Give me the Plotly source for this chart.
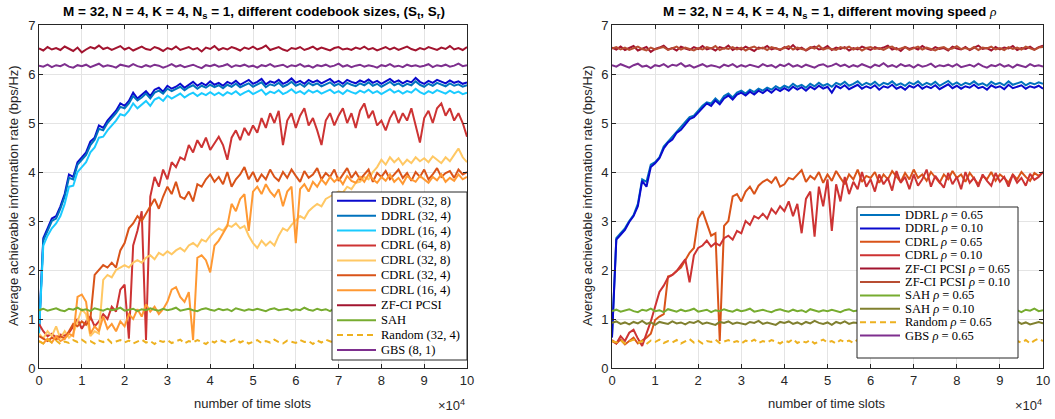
import plotly.graph_objects as go

# ---------------- data (x in units of 10^4 time slots) ----------------
slots = [round(i * 0.1, 1) for i in range(101)]
xtick_vals = [0, 1, 2, 3, 4, 5, 6, 7, 8, 9, 10]
ytick_vals = [0, 1, 2, 3, 4, 5, 6, 7]

# ----- left panel: different codebook sizes -----
ddrl_32_8 = [0.75,2.65,2.85,3.05,3.10,3.30,3.55,3.95,3.90,4.20,
             4.30,4.40,4.62,4.70,4.95,4.90,5.05,5.15,5.25,5.40,
             5.35,5.45,5.62,5.50,5.58,5.65,5.55,5.68,5.72,5.64,
             5.76,5.70,5.74,5.80,5.72,5.78,5.84,5.76,5.82,5.77,
             5.85,5.78,5.82,5.76,5.84,5.80,5.86,5.78,5.83,5.88,
             5.80,5.84,5.90,5.79,5.85,5.82,5.88,5.80,5.84,5.91,
             5.82,5.86,5.80,5.88,5.83,5.87,5.81,5.85,5.90,5.82,
             5.86,5.80,5.88,5.84,5.81,5.87,5.83,5.89,5.82,5.86,
             5.80,5.85,5.90,5.83,5.87,5.81,5.86,5.83,5.92,5.84,
             5.80,5.86,5.82,5.88,5.84,5.81,5.87,5.82,5.85,5.80,
             5.83]
ddrl_32_4 = [0.72,2.60,2.80,3.00,3.05,3.25,3.50,3.88,3.85,4.15,
             4.25,4.35,4.55,4.66,4.88,4.85,5.00,5.10,5.20,5.33,
             5.30,5.40,5.55,5.46,5.52,5.60,5.50,5.62,5.66,5.60,
             5.70,5.65,5.69,5.74,5.67,5.73,5.77,5.70,5.76,5.72,
             5.78,5.73,5.77,5.71,5.78,5.74,5.80,5.73,5.77,5.81,
             5.74,5.78,5.83,5.73,5.79,5.76,5.82,5.74,5.78,5.84,
             5.76,5.80,5.74,5.82,5.77,5.81,5.75,5.79,5.83,5.76,
             5.80,5.74,5.82,5.78,5.75,5.81,5.77,5.83,5.76,5.80,
             5.74,5.79,5.84,5.77,5.81,5.75,5.80,5.77,5.85,5.78,
             5.74,5.80,5.76,5.82,5.78,5.75,5.81,5.76,5.79,5.74,
             5.77]
ddrl_16_4 = [0.70,2.50,2.70,2.85,2.95,3.10,3.35,3.70,3.72,4.00,
             4.10,4.20,4.40,4.50,4.70,4.72,4.85,4.95,5.05,5.18,
             5.15,5.25,5.40,5.30,5.38,5.45,5.35,5.48,5.52,5.45,
             5.56,5.50,5.55,5.60,5.52,5.58,5.62,5.55,5.61,5.57,
             5.63,5.57,5.62,5.56,5.63,5.59,5.65,5.57,5.62,5.66,
             5.59,5.63,5.68,5.58,5.64,5.61,5.67,5.59,5.63,5.69,
             5.61,5.65,5.59,5.67,5.62,5.66,5.60,5.64,5.68,5.61,
             5.65,5.59,5.67,5.63,5.60,5.66,5.62,5.68,5.61,5.65,
             5.59,5.64,5.69,5.62,5.66,5.60,5.65,5.62,5.70,5.63,
             5.59,5.65,5.61,5.67,5.63,5.60,5.66,5.61,5.64,5.59,
             5.62]
cdrl_64_8 = [0.90,0.75,0.65,0.70,0.62,0.68,0.66,0.72,0.85,1.00,
             0.80,0.95,1.05,0.85,0.95,1.10,1.00,1.25,1.15,1.60,
             1.70,0.60,2.50,2.80,3.20,0.57,3.50,3.90,3.70,4.05,
             3.85,4.20,4.10,4.30,4.25,4.55,4.40,4.65,4.50,4.70,
             4.45,4.60,4.72,4.55,4.25,4.70,4.85,4.65,4.90,4.75,
             4.95,4.80,5.10,4.90,5.20,5.00,5.25,4.55,5.05,5.20,
             4.90,5.15,5.30,4.95,5.10,4.85,4.55,5.05,5.20,4.95,
             5.15,5.30,5.00,5.20,4.90,5.25,5.40,5.10,5.25,4.95,
             5.05,4.85,5.10,5.25,5.00,5.20,5.05,5.30,4.95,4.60,
             5.10,5.25,5.00,5.30,5.40,5.15,5.30,5.05,5.20,5.00,
             4.72]
cdrl_32_8 = [0.70,0.60,0.75,0.65,0.85,0.60,0.75,0.62,0.70,0.95,
             1.20,1.10,0.65,0.75,0.70,1.80,1.90,1.85,2.00,2.05,
             2.10,2.05,2.15,2.20,2.15,2.25,2.30,2.22,2.35,2.30,
             2.38,2.32,2.40,2.45,2.38,2.50,2.55,2.48,2.62,2.58,
             2.70,2.78,2.85,2.80,2.92,2.88,2.95,2.85,2.90,2.70,
             2.55,2.45,2.60,2.50,2.58,2.50,2.70,2.85,2.80,2.92,
             3.00,3.10,3.05,3.20,3.28,3.35,3.30,3.45,3.50,3.55,
             3.60,3.58,3.70,3.65,3.78,3.80,3.90,3.85,4.00,4.10,
             4.25,4.15,4.30,4.20,4.28,4.15,4.25,4.18,4.30,4.22,
             4.28,4.20,4.32,4.25,4.18,4.30,4.22,4.35,4.48,4.30,
             4.20]
cdrl_32_4 = [0.65,0.60,0.55,0.62,0.58,0.65,0.60,0.75,0.90,0.85,
             0.95,0.88,1.00,1.90,2.00,2.10,2.05,2.15,2.05,2.40,
             2.55,2.85,2.95,3.10,3.00,3.15,3.30,3.45,3.25,3.50,
             3.70,3.55,3.80,3.50,3.45,3.60,3.40,3.75,3.70,3.85,
             3.95,3.80,3.90,3.75,4.00,3.70,3.85,3.95,4.10,3.85,
             4.00,3.80,3.95,3.85,4.05,3.90,3.82,4.00,3.88,4.05,
             3.92,3.80,4.02,3.88,3.95,4.08,3.85,3.98,3.90,4.05,
             3.82,3.95,4.08,3.88,4.00,3.85,3.95,4.05,3.80,3.98,
             3.90,4.02,3.85,3.95,4.05,3.88,3.98,3.82,4.00,3.90,
             4.05,3.85,3.95,4.08,3.90,3.98,4.02,3.88,4.05,3.95,
             4.00]
cdrl_16_4 = [0.55,0.50,0.60,0.52,0.65,0.55,0.60,0.70,0.65,1.45,
             1.50,1.35,0.70,0.85,0.75,1.05,0.80,0.90,0.75,0.95,
             0.85,1.10,1.00,1.20,1.05,1.30,1.15,1.25,1.10,1.20,
             1.35,1.60,1.65,1.45,1.35,1.55,0.57,2.25,2.30,2.20,
             1.95,2.50,2.60,2.75,2.90,3.35,3.20,3.45,3.55,2.80,
             3.60,3.70,3.55,3.75,3.60,3.50,3.65,3.30,3.60,3.70,
             2.55,3.65,3.75,3.60,3.80,3.70,3.85,3.75,3.90,3.80,
             3.88,3.75,3.92,3.82,3.78,3.90,3.80,3.95,3.85,3.78,
             3.90,3.82,3.95,3.80,3.88,3.76,3.92,3.85,3.80,3.92,
             3.85,3.78,3.90,3.83,3.95,3.80,3.88,3.82,3.95,3.85,
             3.90]
zfci_L = [6.52,6.48,6.55,6.50,6.53,6.49,6.56,6.51,6.47,6.54,
          6.44,6.50,6.55,6.52,6.58,6.51,6.54,6.49,6.53,6.57,
          6.50,6.54,6.48,6.52,6.56,6.51,6.49,6.55,6.52,6.47,
          6.53,6.50,6.56,6.49,6.52,6.55,6.50,6.53,6.46,6.54,
          6.51,6.57,6.49,6.53,6.50,6.55,6.52,6.48,6.54,6.51,
          6.56,6.50,6.53,6.58,6.49,6.52,6.55,6.50,6.47,6.53,
          6.51,6.55,6.49,6.52,6.56,6.50,6.54,6.51,6.48,6.53,
          6.55,6.50,6.52,6.49,6.54,6.51,6.56,6.50,6.53,6.48,
          6.52,6.55,6.50,6.54,6.49,6.52,6.56,6.51,6.48,6.53,
          6.50,6.55,6.52,6.49,6.54,6.51,6.57,6.50,6.53,6.49,
          6.55]
sah_L = [1.18,1.21,1.17,1.20,1.22,1.18,1.16,1.21,1.19,1.23,
         1.18,1.20,1.16,1.22,1.19,1.17,1.21,1.18,1.20,1.23,
         1.17,1.19,1.21,1.16,1.20,1.18,1.22,1.19,1.17,1.21,
         1.18,1.20,1.23,1.17,1.19,1.21,1.18,1.16,1.20,1.22,
         1.19,1.17,1.21,1.18,1.20,1.16,1.22,1.19,1.17,1.20,
         1.18,1.21,1.19,1.16,1.20,1.22,1.18,1.19,1.21,1.17,
         1.20,1.18,1.23,1.19,1.17,1.21,1.18,1.20,1.16,1.22,
         1.19,1.17,1.20,1.21,1.18,1.16,1.20,1.22,1.18,1.19,
         1.21,1.17,1.20,1.18,1.22,1.19,1.16,1.20,1.18,1.21,
         1.17,1.19,1.22,1.18,1.20,1.16,1.21,1.19,1.23,1.18,
         1.20]
random_L = [0.55,0.50,0.58,0.52,0.56,0.49,0.54,0.51,0.57,0.53,
            0.58,0.52,0.55,0.50,0.56,0.53,0.59,0.51,0.54,0.57,
            0.52,0.56,0.50,0.54,0.58,0.52,0.55,0.49,0.56,0.53,
            0.57,0.51,0.54,0.58,0.50,0.55,0.52,0.57,0.53,0.49,
            0.56,0.52,0.58,0.54,0.51,0.55,0.59,0.52,0.56,0.50,
            0.54,0.57,0.51,0.55,0.52,0.58,0.53,0.50,0.56,0.54,
            0.51,0.57,0.53,0.55,0.49,0.56,0.52,0.58,0.54,0.51,
            0.55,0.53,0.57,0.50,0.55,0.52,0.58,0.53,0.56,0.51,
            0.54,0.57,0.52,0.55,0.50,0.56,0.53,0.59,0.52,0.55,
            0.51,0.57,0.53,0.55,0.60,0.52,0.56,0.50,0.54,0.58,
            0.55]
gbs_L = [6.17,6.15,6.19,6.14,6.18,6.16,6.20,6.15,6.13,6.18,
         6.16,6.19,6.14,6.17,6.21,6.15,6.18,6.16,6.13,6.19,
         6.17,6.15,6.20,6.16,6.14,6.18,6.15,6.19,6.17,6.13,
         6.16,6.20,6.15,6.18,6.14,6.17,6.19,6.15,6.12,6.18,
         6.16,6.19,6.15,6.17,6.20,6.14,6.18,6.16,6.19,6.15,
         6.17,6.13,6.18,6.16,6.20,6.15,6.17,6.19,6.14,6.18,
         6.16,6.20,6.15,6.17,6.13,6.18,6.16,6.19,6.15,6.17,
         6.21,6.15,6.18,6.14,6.17,6.19,6.15,6.18,6.16,6.13,
         6.18,6.16,6.20,6.15,6.17,6.14,6.19,6.16,6.18,6.15,
         6.17,6.20,6.14,6.18,6.16,6.19,6.15,6.17,6.21,6.16,
         6.18]

# ----- right panel: different moving speed rho -----
ddrl_065 = [0.65,2.65,2.75,2.85,3.00,3.12,3.35,3.85,3.80,4.15,
            4.20,4.30,4.52,4.62,4.70,4.82,4.90,5.00,5.12,5.15,
            5.25,5.35,5.42,5.40,5.50,5.42,5.55,5.60,5.52,5.62,
            5.66,5.60,5.68,5.63,5.70,5.66,5.72,5.68,5.75,5.70,
            5.76,5.72,5.80,5.74,5.78,5.72,5.80,5.75,5.82,5.76,
            5.80,5.74,5.82,5.78,5.84,5.76,5.80,5.85,5.77,5.82,
            5.78,5.84,5.76,5.82,5.79,5.85,5.77,5.81,5.76,5.83,
            5.79,5.85,5.77,5.82,5.78,5.84,5.76,5.81,5.86,5.78,
            5.83,5.77,5.82,5.79,5.85,5.78,5.81,5.76,5.84,5.79,
            5.82,5.77,5.85,5.78,5.81,5.84,5.77,5.82,5.79,5.83,
            5.80]
ddrl_010 = [0.62,2.62,2.72,2.82,2.98,3.10,3.30,3.82,3.70,4.10,
            4.18,4.28,4.48,4.60,4.66,4.80,4.86,4.98,5.08,5.12,
            5.22,5.30,5.40,5.35,5.46,5.38,5.50,5.56,5.48,5.58,
            5.62,5.56,5.64,5.58,5.66,5.61,5.68,5.62,5.70,5.65,
            5.71,5.66,5.74,5.68,5.73,5.66,5.74,5.69,5.76,5.70,
            5.74,5.62,5.76,5.71,5.77,5.69,5.74,5.78,5.70,5.75,
            5.71,5.77,5.68,5.75,5.72,5.78,5.70,5.74,5.68,5.76,
            5.72,5.78,5.70,5.75,5.71,5.77,5.69,5.74,5.79,5.71,
            5.76,5.70,5.75,5.72,5.78,5.71,5.74,5.68,5.77,5.72,
            5.75,5.69,5.78,5.71,5.74,5.77,5.70,5.75,5.72,5.76,
            5.70]
cdrl_065 = [0.55,0.50,0.58,0.48,0.55,0.62,0.50,0.56,0.62,0.70,
            0.98,1.05,1.10,1.87,1.90,1.98,2.05,2.20,2.35,2.45,
            3.05,3.20,2.95,2.70,2.75,0.55,2.90,3.00,3.50,3.55,
            3.40,3.60,3.70,3.55,3.72,3.80,3.85,3.78,3.90,3.70,
            3.75,3.88,3.85,3.95,4.04,3.80,3.92,3.85,4.00,3.78,
            3.95,3.82,4.02,3.88,3.75,3.95,3.85,4.05,3.80,3.92,
            3.88,4.00,3.78,3.95,3.85,4.02,3.90,3.80,3.98,3.85,
            4.05,3.88,3.95,3.82,4.00,3.90,3.78,3.95,3.85,4.02,
            3.88,3.95,3.80,3.98,3.86,3.75,3.92,3.85,4.00,3.82,
            3.95,3.88,3.78,3.95,3.85,4.00,3.90,3.82,3.98,3.92,
            4.00]
cdrl_010 = [0.57,0.50,0.65,0.55,0.72,0.78,0.60,0.45,0.70,0.95,
            1.25,1.55,1.68,1.85,1.90,1.98,2.10,2.22,1.75,2.30,
            2.45,2.50,2.60,2.48,2.55,2.50,2.65,2.70,2.62,2.80,
            2.75,3.00,2.92,3.10,3.05,3.15,3.05,3.25,3.15,3.30,
            3.20,3.40,3.10,3.35,2.75,3.45,3.60,2.68,3.70,3.30,
            3.85,2.80,3.75,3.40,3.90,3.55,3.80,3.65,4.00,3.70,
            3.85,3.60,3.95,3.75,3.88,3.62,4.02,3.78,3.90,3.65,
            3.95,3.72,3.85,4.05,3.70,3.92,3.80,3.68,3.98,3.75,
            3.90,3.65,4.00,3.78,3.88,3.70,3.95,3.82,3.72,3.98,
            3.80,3.90,3.70,3.95,3.78,3.88,3.72,3.96,3.84,3.90,
            4.00]
zfci_065 = [6.54,6.50,6.56,6.49,6.53,6.57,6.48,6.52,6.55,6.45,
            6.51,6.54,6.58,6.50,6.53,6.48,6.56,6.52,6.49,6.55,
            6.51,6.57,6.50,6.53,6.48,6.55,6.52,6.58,6.49,6.54,
            6.50,6.56,6.51,6.47,6.54,6.52,6.57,6.50,6.53,6.49,
            6.55,6.51,6.59,6.50,6.54,6.48,6.53,6.56,6.50,6.52,
            6.57,6.49,6.54,6.51,6.55,6.48,6.53,6.50,6.56,6.52,
            6.49,6.55,6.51,6.54,6.58,6.50,6.53,6.47,6.55,6.51,
            6.54,6.50,6.57,6.52,6.49,6.55,6.51,6.53,6.48,6.56,
            6.52,6.50,6.55,6.49,6.54,6.58,6.51,6.53,6.48,6.55,
            6.50,6.54,6.52,6.57,6.49,6.53,6.51,6.56,6.50,6.55,
            6.58]
zfci_010 = [6.52,6.55,6.50,6.54,6.49,6.53,6.56,6.51,6.48,6.54,
            6.50,6.53,6.55,6.49,6.52,6.56,6.50,6.54,6.51,6.48,
            6.53,6.50,6.55,6.52,6.57,6.49,6.53,6.51,6.55,6.50,
            6.54,6.48,6.53,6.56,6.51,6.54,6.49,6.55,6.52,6.50,
            6.53,6.57,6.50,6.54,6.51,6.49,6.55,6.52,6.58,6.50,
            6.53,6.51,6.49,6.55,6.52,6.56,6.50,6.54,6.48,6.53,
            6.55,6.51,6.53,6.49,6.54,6.56,6.50,6.52,6.55,6.49,
            6.52,6.56,6.50,6.54,6.51,6.48,6.53,6.55,6.50,6.52,
            6.57,6.51,6.53,6.50,6.55,6.49,6.54,6.52,6.56,6.50,
            6.53,6.49,6.55,6.51,6.54,6.50,6.56,6.52,6.49,6.54,
            6.55]
sah_065 = [1.16,1.19,1.15,1.18,1.20,1.16,1.14,1.19,1.17,1.21,
           1.16,1.18,1.14,1.20,1.17,1.15,1.19,1.16,1.18,1.21,
           1.15,1.17,1.19,1.14,1.18,1.16,1.20,1.17,1.15,1.19,
           1.16,1.18,1.21,1.15,1.17,1.19,1.16,1.14,1.18,1.20,
           1.17,1.15,1.19,1.16,1.18,1.14,1.20,1.17,1.15,1.18,
           1.16,1.19,1.17,1.14,1.18,1.20,1.16,1.17,1.19,1.15,
           1.18,1.16,1.21,1.17,1.15,1.19,1.16,1.18,1.14,1.20,
           1.17,1.15,1.18,1.19,1.16,1.14,1.18,1.20,1.16,1.17,
           1.19,1.15,1.18,1.16,1.20,1.17,1.14,1.18,1.16,1.19,
           1.15,1.17,1.20,1.16,1.18,1.14,1.19,1.17,1.21,1.16,
           1.18]
sah_010 = [0.92,0.95,0.90,0.93,0.89,0.94,0.91,0.96,0.90,0.93,
           0.88,0.94,0.92,0.90,0.95,0.91,0.93,0.89,0.94,0.92,
           0.96,0.90,0.93,0.91,0.88,0.94,0.92,0.95,0.90,0.93,
           0.91,0.89,0.94,0.92,0.96,0.90,0.93,0.91,0.88,0.94,
           0.92,0.95,0.90,0.93,0.89,0.94,0.91,0.96,0.92,0.90,
           0.93,0.88,0.94,0.91,0.95,0.90,0.93,0.92,0.89,0.94,
           0.91,0.95,0.90,0.93,0.88,0.94,0.92,0.96,0.90,0.93,
           0.91,0.89,0.94,0.92,0.95,0.90,0.93,0.91,0.88,0.94,
           0.92,0.95,0.90,0.93,0.89,0.94,0.91,0.96,0.90,0.93,
           0.92,0.88,0.94,0.91,0.95,0.90,0.93,0.89,0.92,0.94,
           0.91]
random_065 = [0.55,0.52,0.57,0.50,0.54,0.58,0.51,0.55,0.49,0.56,
              0.53,0.58,0.51,0.55,0.52,0.57,0.50,0.54,0.59,0.52,
              0.56,0.50,0.55,0.53,0.58,0.51,0.54,0.57,0.52,0.55,
              0.50,0.56,0.53,0.58,0.51,0.55,0.52,0.57,0.54,0.50,
              0.56,0.53,0.59,0.51,0.55,0.52,0.57,0.50,0.54,0.58,
              0.52,0.55,0.50,0.57,0.53,0.56,0.51,0.58,0.54,0.52,
              0.55,0.59,0.51,0.56,0.53,0.50,0.57,0.54,0.52,0.58,
              0.55,0.51,0.56,0.53,0.59,0.52,0.55,0.50,0.57,0.54,
              0.52,0.58,0.53,0.56,0.50,0.55,0.57,0.52,0.59,0.54,
              0.51,0.56,0.53,0.58,0.55,0.52,0.57,0.50,0.56,0.60,
              0.55]
gbs_065 = [6.18,6.15,6.20,6.16,6.13,6.18,6.21,6.15,6.17,6.12,
           6.18,6.16,6.20,6.14,6.19,6.17,6.22,6.15,6.18,6.13,
           6.17,6.20,6.15,6.18,6.16,6.13,6.19,6.16,6.20,6.14,
           6.18,6.15,6.19,6.17,6.14,6.20,6.16,6.18,6.13,6.19,
           6.16,6.21,6.15,6.18,6.14,6.19,6.16,6.13,6.18,6.20,
           6.15,6.17,6.21,6.16,6.19,6.14,6.18,6.15,6.20,6.17,
           6.13,6.19,6.16,6.22,6.15,6.18,6.14,6.20,6.16,6.18,
           6.13,6.19,6.15,6.17,6.21,6.14,6.18,6.16,6.19,6.15,
           6.20,6.14,6.17,6.19,6.15,6.21,6.16,6.13,6.18,6.16,
           6.20,6.15,6.18,6.13,6.19,6.17,6.14,6.20,6.16,6.18,
           6.15]

left_names = ["DDRL (32, 8)", "DDRL (32, 4)", "DDRL (16, 4)", "CDRL (64, 8)",
              "CDRL (32, 8)", "CDRL (32, 4)", "CDRL (16, 4)", "ZF-CI PCSI",
              "SAH", "Random (32, 4)", "GBS (8, 1)"]
left_values = [ddrl_32_8, ddrl_32_4, ddrl_16_4, cdrl_64_8, cdrl_32_8, cdrl_32_4,
               cdrl_16_4, zfci_L, sah_L, random_L, gbs_L]
left_colors = ["#0A0ACD", "#0072BD", "#1ACBFF", "#CD3333", "#FFC864", "#D95319",
               "#FF9933", "#A2142F", "#77AC30", "#EDB120", "#7E2F8E"]
left_dash = ["solid"] * 9 + ["6px,4px", "solid"]

rho = "<i>ρ</i>"
right_names = [f"DDRL {rho} = 0.65", f"DDRL {rho} = 0.10", f"CDRL {rho} = 0.65",
               f"CDRL {rho} = 0.10", f"ZF-CI PCSI {rho} = 0.65", f"ZF-CI PCSI {rho} = 0.10",
               f"SAH {rho} = 0.65", f"SAH {rho} = 0.10", f"Random {rho} = 0.65",
               f"GBS {rho} = 0.65"]
right_values = [ddrl_065, ddrl_010, cdrl_065, cdrl_010, zfci_065, zfci_010,
                sah_065, sah_010, random_065, gbs_065]
right_colors = ["#0072BD", "#0A0ACD", "#D95319", "#CD3333", "#A2142F", "#B84D32",
                "#77AC30", "#80802F", "#EDB120", "#7E2F8E"]
right_dash = ["solid"] * 8 + ["6px,4px", "solid"]

# ---------------- figure ----------------
W, H = 1055, 419
def fx(p):
    return p / W
def fy(p):
    return 1 - p / H

SANS = "Liberation Sans"
SERIF = "Liberation Serif"
AX = "#262626"

fig = go.Figure()
for names, vals, cols, dashes, xa, ya in [
        (left_names, left_values, left_colors, left_dash, "x", "y"),
        (right_names, right_values, right_colors, right_dash, "x2", "y2")]:
    for n, v, c, d in zip(names, vals, cols, dashes):
        fig.add_trace(go.Scatter(x=slots, y=v, mode="lines", name=n,
                                 line=dict(color=c, width=2, dash=d),
                                 xaxis=xa, yaxis=ya, showlegend=False))

def axis(domain, anchor, rng, tv):
    return dict(domain=domain, anchor=anchor, range=rng, tickvals=tv,
                automargin=False,
                showline=True, linecolor=AX, linewidth=1, mirror="ticks",
                ticks="inside", ticklen=4, tickcolor=AX, showgrid=True,
                gridcolor="#E4E4E4", gridwidth=1, zeroline=False,
                tickfont=dict(family=SANS, size=13, color=AX))

ydom = [fy(368), fy(25)]
fig.update_layout(
    width=W, height=H, margin=dict(l=0, r=0, t=0, b=0, pad=0, autoexpand=False),
    plot_bgcolor="white", paper_bgcolor="white", showlegend=False,
    xaxis=axis([fx(39), fx(467)], "y", [0, 10], xtick_vals),
    yaxis=axis(ydom, "x", [0, 7], ytick_vals),
    xaxis2=axis([fx(612), fx(1043)], "y2", [0, 10], xtick_vals),
    yaxis2=axis(ydom, "x2", [0, 7], ytick_vals),
)

ann = []
shapes = []
# titles
ann.append(dict(x=fx(254), y=fy(12), xref="paper", yref="paper", showarrow=False,
                xanchor="center", yanchor="middle",
                text="<b>M = 32, N = 4, K = 4, N<sub>s</sub> = 1, different codebook sizes, (S<sub>t</sub>, S<sub>r</sub>)</b>",
                font=dict(family=SANS, size=13.5, color="black")))
ann.append(dict(x=fx(830), y=fy(12), xref="paper", yref="paper", showarrow=False,
                xanchor="center", yanchor="middle",
                text="<b>M = 32, N = 4, K = 4, N<sub>s</sub> = 1, different moving speed </b>"
                     "<span style='font-family:Liberation Serif'><i>ρ</i></span>",
                font=dict(family=SANS, size=13.5, color="black")))
# axis titles
for cx in (253, 827):
    ann.append(dict(x=fx(cx), y=fy(403), xref="paper", yref="paper", showarrow=False,
                    xanchor="center", yanchor="middle", text="number of time slots",
                    font=dict(family=SANS, size=13, color=AX)))
for cx in (14, 588):
    ann.append(dict(x=fx(cx), y=fy(196), xref="paper", yref="paper", showarrow=False,
                    xanchor="center", yanchor="middle", textangle=-90,
                    text="Average achievable information rate (bps/Hz)",
                    font=dict(family=SANS, size=13, color=AX)))
for rx in (467, 1044):
    ann.append(dict(x=fx(rx), y=fy(405), xref="paper", yref="paper", showarrow=False,
                    xanchor="right", yanchor="middle", text="×10<sup>4</sup>",
                    font=dict(family=SANS, size=13, color=AX)))

# custom legends (compact MATLAB-like)
def legend(names, cols, dashes, box, line_x, text_x, y_first, step):
    x0, x1, y0, y1 = box
    shapes.append(dict(type="rect", xref="paper", yref="paper", x0=fx(x0), x1=fx(x1),
                       y0=fy(y1), y1=fy(y0), fillcolor="white",
                       line=dict(color=AX, width=1), layer="above"))
    for i, (n, c, d) in enumerate(zip(names, cols, dashes)):
        yy = y_first + step * i
        shapes.append(dict(type="line", xref="paper", yref="paper",
                           x0=fx(line_x[0]), x1=fx(line_x[1]), y0=fy(yy), y1=fy(yy),
                           line=dict(color=c, width=2, dash=d), layer="above"))
        ann.append(dict(x=fx(text_x), y=fy(yy), xref="paper", yref="paper",
                        showarrow=False, xanchor="left", yanchor="middle", text=n,
                        font=dict(family=SERIF, size=12.5, color="black")))

legend(left_names, left_colors, left_dash, (332, 467, 192, 360), (337, 376), 379, 200.7, 14.93)
legend(right_names, right_colors, right_dash, (857, 1018, 207, 358), (860, 900), 903, 215.0, 13.4)

fig.update_layout(annotations=ann, shapes=shapes)
fig.write_html("out.html")
